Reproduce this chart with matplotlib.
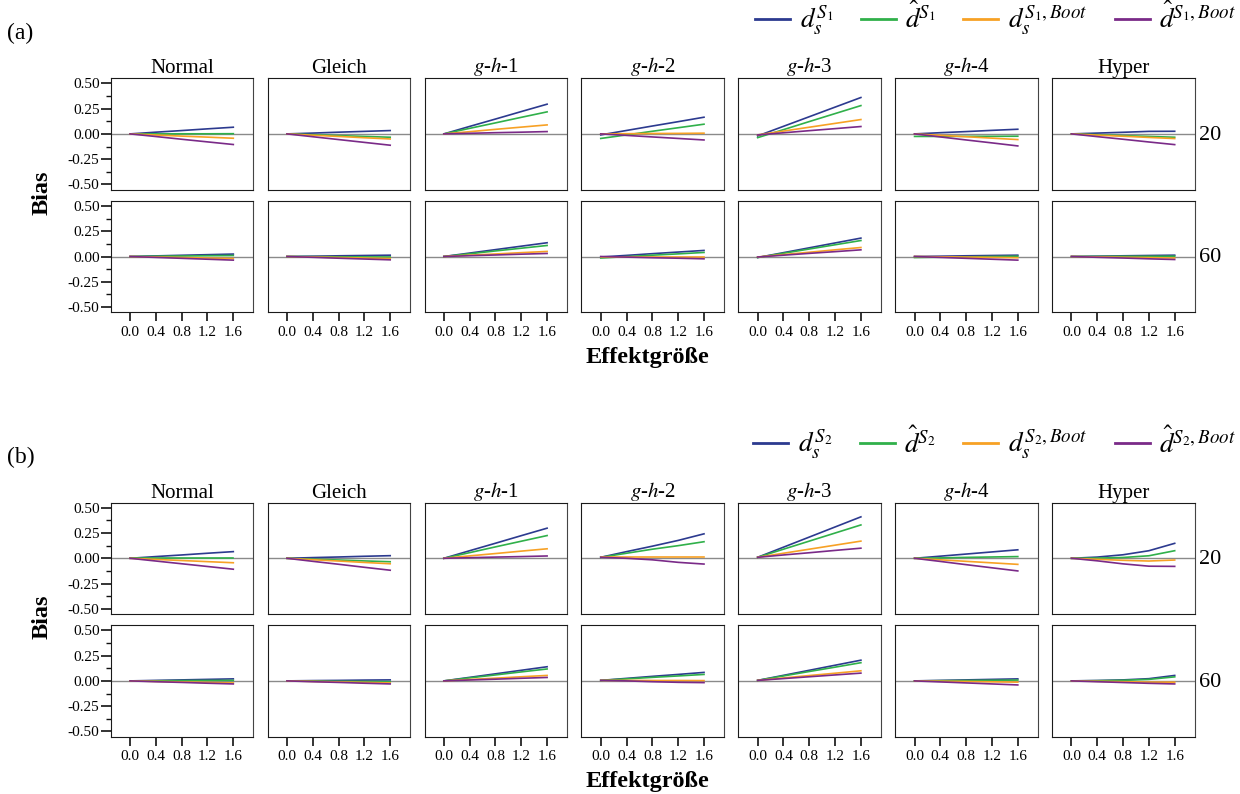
import numpy as np
import matplotlib
matplotlib.use("Agg")
import matplotlib.pyplot as plt
from matplotlib.lines import Line2D
from matplotlib.ticker import MultipleLocator

plt.rcParams['font.family'] = ['Liberation Serif', 'DejaVu Serif']
plt.rcParams['mathtext.fontset'] = 'stix'

# effect sizes on the x axis
effect = [0.0, 0.4, 0.8, 1.2, 1.6]
dists = ["Normal", "Gleich", "$g$-$h$-1", "$g$-$h$-2", "$g$-$h$-3", "$g$-$h$-4", "Hyper"]
sizes = ["20", "60"]

# (a) S1, n = 20  -- one row per distribution
a20_ds = [[0, 0.017, 0.033, 0.050, 0.066],
          [0, 0.008, 0.017, 0.025, 0.033],
          [0, 0.074, 0.147, 0.221, 0.294],
          [-0.010, 0.034, 0.078, 0.121, 0.165],
          [-0.020, 0.075, 0.170, 0.265, 0.360],
          [0, 0.012, 0.023, 0.035, 0.046],
          [0, 0.008, 0.016, 0.025, 0.026]]
a20_dhat = [[0, 0.000, 0.001, 0.001, 0.002],
            [0, -0.008, -0.017, -0.025, -0.033],
            [0, 0.055, 0.109, 0.164, 0.218],
            [-0.045, -0.010, 0.026, 0.061, 0.096],
            [-0.037, 0.042, 0.122, 0.201, 0.280],
            [-0.025, -0.025, -0.024, -0.024, -0.023],
            [0, -0.008, -0.017, -0.025, -0.033]]
a20_ds_boot = [[0, -0.011, -0.022, -0.032, -0.043],
               [0, -0.013, -0.025, -0.038, -0.050],
               [0, 0.022, 0.045, 0.067, 0.089],
               [0, 0.002, 0.004, 0.005, 0.007],
               [-0.010, 0.028, 0.066, 0.104, 0.142],
               [0, -0.014, -0.028, -0.042, -0.056],
               [0, -0.012, -0.023, -0.035, -0.046]]
a20_dhat_boot = [[0, -0.026, -0.053, -0.079, -0.105],
                 [0, -0.028, -0.056, -0.084, -0.112],
                 [0, 0.006, 0.012, 0.017, 0.023],
                 [0, -0.015, -0.030, -0.045, -0.060],
                 [-0.010, 0.011, 0.032, 0.052, 0.073],
                 [0, -0.030, -0.060, -0.089, -0.119],
                 [0, -0.027, -0.053, -0.080, -0.106]]

# (a) S1, n = 60
a60_ds = [[0, 0.006, 0.012, 0.018, 0.024],
          [0, 0.003, 0.007, 0.010, 0.013],
          [0, 0.034, 0.068, 0.102, 0.136],
          [-0.005, 0.011, 0.028, 0.044, 0.060],
          [-0.010, 0.038, 0.086, 0.134, 0.182],
          [0, 0.003, 0.007, 0.010, 0.013],
          [0, 0.003, 0.007, 0.010, 0.013]]
a60_dhat = [[0, 0.003, 0.005, 0.008, 0.010],
            [0, -0.001, -0.003, -0.004, -0.005],
            [0, 0.027, 0.055, 0.082, 0.109],
            [-0.015, -0.001, 0.013, 0.026, 0.040],
            [-0.010, 0.032, 0.074, 0.116, 0.158],
            [-0.010, -0.007, -0.004, 0.000, 0.003],
            [0, 0.001, 0.002, 0.002, 0.003]]
a60_ds_boot = [[0, -0.005, -0.010, -0.015, -0.020],
               [0, -0.005, -0.010, -0.015, -0.020],
               [0, 0.013, 0.025, 0.038, 0.050],
               [0, 0.000, 0.000, 0.000, 0.000],
               [-0.005, 0.019, 0.042, 0.066, 0.089],
               [0, -0.003, -0.006, -0.009, -0.012],
               [0, -0.004, -0.008, -0.011, -0.015]]
a60_dhat_boot = [[0, -0.009, -0.018, -0.027, -0.036],
                 [0, -0.008, -0.017, -0.025, -0.033],
                 [0, 0.008, 0.015, 0.023, 0.030],
                 [0, -0.006, -0.012, -0.017, -0.023],
                 [-0.005, 0.013, 0.031, 0.048, 0.066],
                 [0, -0.009, -0.018, -0.027, -0.036],
                 [0, -0.008, -0.015, -0.023, -0.030]]

# (b) S2, n = 20
b20_ds = [[0, 0.017, 0.033, 0.050, 0.066],
          [0, 0.007, 0.013, 0.020, 0.026],
          [0, 0.075, 0.149, 0.224, 0.298],
          [0.010, 0.066, 0.120, 0.177, 0.242],
          [0.010, 0.110, 0.210, 0.310, 0.410],
          [0, 0.021, 0.042, 0.063, 0.084],
          [0, 0.012, 0.035, 0.075, 0.148]]
b20_dhat = [[0, 0.000, 0.000, 0.000, 0.000],
            [0, -0.009, -0.017, -0.026, -0.034],
            [0, 0.056, 0.113, 0.169, 0.225],
            [0.010, 0.050, 0.090, 0.125, 0.164],
            [0.010, 0.090, 0.170, 0.250, 0.330],
            [0, 0.004, 0.009, 0.013, 0.017],
            [0, 0.002, 0.008, 0.025, 0.075]]
b20_ds_boot = [[0, -0.011, -0.022, -0.033, -0.044],
               [0, -0.014, -0.027, -0.041, -0.054],
               [0, 0.024, 0.047, 0.071, 0.094],
               [0.010, 0.010, 0.010, 0.010, 0.010],
               [0.010, 0.050, 0.090, 0.130, 0.170],
               [0, -0.015, -0.030, -0.045, -0.060],
               [0, -0.010, -0.020, -0.027, -0.017]]
b20_dhat_boot = [[0, -0.027, -0.054, -0.081, -0.108],
                 [0, -0.030, -0.059, -0.089, -0.118],
                 [0, 0.006, 0.012, 0.017, 0.023],
                 [0.010, 0.000, -0.015, -0.040, -0.057],
                 [0.010, 0.033, 0.055, 0.078, 0.100],
                 [0, -0.031, -0.063, -0.094, -0.125],
                 [0, -0.025, -0.055, -0.078, -0.080]]

# (b) S2, n = 60
b60_ds = [[0, 0.005, 0.010, 0.015, 0.020],
          [0, 0.003, 0.005, 0.008, 0.010],
          [0, 0.035, 0.070, 0.105, 0.140],
          [0.005, 0.025, 0.045, 0.064, 0.084],
          [0.005, 0.055, 0.105, 0.155, 0.205],
          [0, 0.005, 0.010, 0.015, 0.020],
          [0, 0.004, 0.010, 0.022, 0.054]]
b60_dhat = [[0, 0.001, 0.003, 0.004, 0.005],
            [0, -0.002, -0.004, -0.006, -0.008],
            [0, 0.030, 0.059, 0.089, 0.118],
            [0.005, 0.020, 0.035, 0.049, 0.064],
            [0.005, 0.049, 0.093, 0.136, 0.180],
            [0, 0.002, 0.004, 0.006, 0.008],
            [0, 0.002, 0.006, 0.015, 0.040]]
b60_ds_boot = [[0, -0.005, -0.010, -0.015, -0.020],
               [0, -0.005, -0.010, -0.015, -0.020],
               [0, 0.014, 0.027, 0.041, 0.054],
               [0.005, 0.005, 0.004, 0.004, 0.003],
               [0.005, 0.029, 0.053, 0.076, 0.100],
               [0, -0.003, -0.006, -0.009, -0.012],
               [0, -0.004, -0.008, -0.012, -0.013]]
b60_dhat_boot = [[0, -0.008, -0.015, -0.023, -0.030],
                 [0, -0.008, -0.015, -0.023, -0.030],
                 [0, 0.009, 0.017, 0.026, 0.034],
                 [0.005, 0.000, -0.008, -0.014, -0.017],
                 [0.005, 0.023, 0.041, 0.059, 0.077],
                 [0, -0.010, -0.020, -0.030, -0.040],
                 [0, -0.008, -0.016, -0.024, -0.030]]

colors = ["#2c3a8f", "#30b04a", "#f7a125", "#7a2a88"]

sections = {
    "a": {"S": "S_1", "rows": [[a20_ds, a20_dhat, a20_ds_boot, a20_dhat_boot],
                               [a60_ds, a60_dhat, a60_ds_boot, a60_dhat_boot]],
          "top": 78.3},
    "b": {"S": "S_2", "rows": [[b20_ds, b20_dhat, b20_ds_boot, b20_dhat_boot],
                               [b60_ds, b60_dhat, b60_ds_boot, b60_dhat_boot]],
          "top": 502.7},
}

W, H = 1240, 794
fig = plt.figure(figsize=(W / 100, H / 100), dpi=100)

col_left, col_step, pw, ph, row_step = 110.7, 156.9, 142.6, 111.2, 122.6


def px_axes(left, top, w, h):
    return fig.add_axes([left / W, 1 - (top + h) / H, w / W, h / H])


for key, sec in sections.items():
    S = sec["S"]
    for r, series in enumerate(sec["rows"]):
        top = sec["top"] + r * row_step
        for c in range(len(dists)):
            ax = px_axes(col_left + c * col_step, top, pw, ph)
            ax.axhline(0, color="#8a8a8a", lw=1.0, zorder=1)
            for vals, col in zip(series, colors):
                ax.plot(effect, vals[c], color=col, lw=1.2, zorder=2)
            ax.set_xlim(-0.3, 1.91)
            ax.set_ylim(-0.55, 0.55)
            for side in ["left", "top", "bottom"]:
                ax.spines[side].set_color("#1a1a1a")
            ax.spines["right"].set_color("#444444")
            if c == 0:
                ax.set_yticks([-0.5, -0.25, 0, 0.25, 0.5])
                ax.set_yticklabels(["-0.50", "-0.25", "0.00", "0.25", "0.50"])
                ax.yaxis.set_minor_locator(MultipleLocator(0.125))
                ax.tick_params(axis="y", which="major", length=7, width=1.2,
                               labelsize=11, pad=1, color="#111111")
                ax.tick_params(axis="y", which="minor", length=3.5, width=1.0,
                               color="#111111")
            else:
                ax.set_yticks([])
            if r == 1:
                ax.set_xticks(effect)
                ax.set_xticklabels(["0.0", "0.4", "0.8", "1.2", "1.6"])
                ax.tick_params(axis="x", length=6.5, width=1.2, labelsize=11,
                               pad=3.5, color="#111111")
            else:
                ax.set_xticks([])
                ax.set_title(dists[c], fontsize=15, pad=3)
            if c == len(dists) - 1:
                ax.text(1.03, 0.49, sizes[r], transform=ax.transAxes,
                        fontsize=16, ha="left", va="center")

    base = sec["top"]
    fig.text(42 / W, 1 - (base + 114) / H, "Bias", rotation=90, fontsize=17.5,
             fontweight="bold", ha="center", va="center")
    fig.text(647 / W, 1 - (base + 279) / H, "Effektgröße", fontsize=17.5,
             fontweight="bold", ha="center", va="center")
    fig.text(7 / W, 1 - (base - 45) / H, f"({key})", fontsize=17,
             ha="left", va="center")

    handles = [Line2D([], [], color=col, lw=2) for col in colors]
    labels = [rf"$d_s^{{{S}}}$", rf"$\hat{{d}}^{{{S}}}$",
              rf"$d_s^{{{S},Boot}}$", rf"$\hat{{d}}^{{{S},Boot}}$"]
    fig.legend(handles, labels, ncol=4, frameon=False, fontsize=19.5,
               loc="center right", bbox_to_anchor=(1236 / W, 1 - (base - 58) / H),
               handlelength=1.3, handletextpad=0.35, columnspacing=1.0,
               borderpad=0, borderaxespad=0)

fig.savefig("out.png", dpi=100)
